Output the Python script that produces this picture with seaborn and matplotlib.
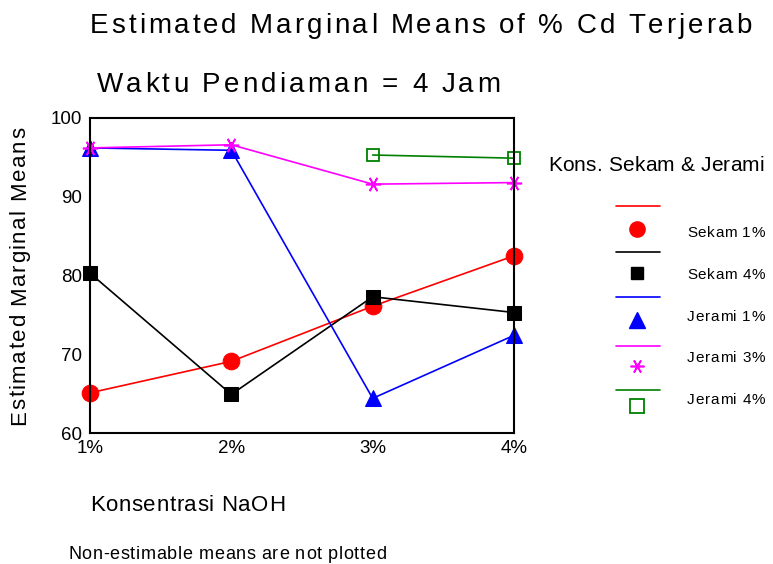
import numpy as np
import pandas as pd
import matplotlib.pyplot as plt
from matplotlib.lines import Line2D
from matplotlib import font_manager, ft2font
import seaborn as sns

# NaOH concentration categories
konsentrasi = ['1%', '2%', '3%', '4%']

# estimated marginal means (NaN = not estimable)
sekam_1 = [65.1, 69.1, 76.1, 82.5]
sekam_4 = [80.3, 64.9, 77.3, 75.3]
jerami_1 = [96.2, 95.9, 64.4, 72.4]
jerami_3 = [96.2, 96.6, 91.6, 91.8]
jerami_4 = [np.nan, np.nan, 95.3, 94.9]

series_names = ['Sekam 1%', 'Sekam 4%', 'Jerami 1%', 'Jerami 3%', 'Jerami 4%']
series_vals = [sekam_1, sekam_4, jerami_1, jerami_3, jerami_4]

rows = []
for name, vals in zip(series_names, series_vals):
    for k, v in zip(konsentrasi, vals):
        rows.append({'Konsentrasi': k, 'Kons': name, 'Mean': v})
df = pd.DataFrame(rows)

colors = {'Sekam 1%': '#ff0000', 'Sekam 4%': '#000000', 'Jerami 1%': '#0000ff',
          'Jerami 3%': '#ff00ff', 'Jerami 4%': '#008000'}
marker_style = {
    'Sekam 1%': dict(marker='o', markersize=12, markerfacecolor='#ff0000', markeredgecolor='#ff0000'),
    'Sekam 4%': dict(marker='s', markersize=9.5, markerfacecolor='#000000', markeredgecolor='#000000'),
    'Jerami 1%': dict(marker='^', markersize=11, markerfacecolor='#0000ff', markeredgecolor='#0000ff'),
    'Jerami 3%': dict(marker=(6, 2, 90), markersize=11, markerfacecolor='#ff00ff',
                      markeredgecolor='#ff00ff', markeredgewidth=1.2),
    'Jerami 4%': dict(marker='s', markersize=8, markerfacecolor='none', markeredgecolor='#008000',
                      markeredgewidth=1.3),
}
legend_msize = {'Sekam 1%': 11, 'Sekam 4%': 8.5, 'Jerami 1%': 11, 'Jerami 3%': 10, 'Jerami 4%': 9.5}

sns.set_style('white')
plt.rcParams['font.family'] = ['Liberation Sans', 'DejaVu Sans']
plt.rcParams['text.color'] = 'black'

W, H = 773, 564
fig = plt.figure(figsize=(W / 100, H / 100), dpi=100)
ax = fig.add_axes([90 / W, 1 - 433 / H, (514 - 90) / W, (433 - 118) / H])

for name in series_names:
    sub = df[df['Kons'] == name].dropna()
    sns.lineplot(data=sub, x='Konsentrasi', y='Mean', ax=ax, color=colors[name],
                 linewidth=1.2, clip_on=False, sort=False, **marker_style[name])

ax.set_xlim(0, 3)
ax.set_ylim(60, 100)
ax.set_xticks(range(4))
ax.set_xticklabels(konsentrasi)
ax.set_yticks([60, 70, 80, 90, 100])
ax.set_xlabel('')
ax.set_ylabel('')
for s in ax.spines.values():
    s.set_color('black')
    s.set_linewidth(1.5)
ax.tick_params(axis='both', direction='out', length=4, width=1.5, colors='black',
               labelsize=13.5, pad=2)
ax.tick_params(axis='x', pad=1)

# the original text is letter-spaced, so place glyphs one by one
font = ft2font.FT2Font(font_manager.findfont('Liberation Sans'))


def spaced(x, base, s, size, width, rotated=False):
    font.set_size(size, 100)
    adv = [font.load_char(ord(c)).linearHoriAdvance / 65536 for c in s]
    track = (width - sum(adv)) / (len(s) - 1)
    pos = 0.0
    for c, a in zip(s, adv):
        if rotated:
            fig.text(base / W, 1 - (x - pos) / H, c, rotation=90, rotation_mode='anchor',
                     ha='left', va='baseline', fontsize=size, color='black')
        else:
            fig.text((x + pos) / W, 1 - base / H, c, ha='left', va='baseline',
                     fontsize=size, color='black')
        pos += a + track


spaced(90, 33, 'Estimated Marginal Means of % Cd Terjerab', 20, 662)
spaced(97, 92, 'Waktu Pendiaman = 4 Jam', 20, 403)
spaced(425, 25, 'Estimated Marginal Means', 16, 298, rotated=True)
spaced(90, 511, 'Konsentrasi NaOH', 16, 195)
spaced(68, 559, 'Non-estimable means are not plotted', 13, 318)

# legend drawn the way the original software lays it out
spaced(548, 171, 'Kons. Sekam & Jerami', 15, 216)
line_y = [206, 252, 297, 346, 390]
mark_y = [229, 273, 320, 366, 406]
lab_y = [237, 279, 321, 362, 404]
for name, ly, my, ty in zip(series_names, line_y, mark_y, lab_y):
    fig.add_artist(Line2D([616 / W, 660 / W], [1 - ly / H] * 2,
                          transform=fig.transFigure, color=colors[name], linewidth=1.2))
    st = dict(marker_style[name])
    st['markersize'] = legend_msize[name]
    fig.add_artist(Line2D([637 / W], [1 - my / H], transform=fig.transFigure,
                          linestyle='none', **st))
    spaced(687, ty, name, 11, 78)

fig.savefig('out.png', dpi=100)
